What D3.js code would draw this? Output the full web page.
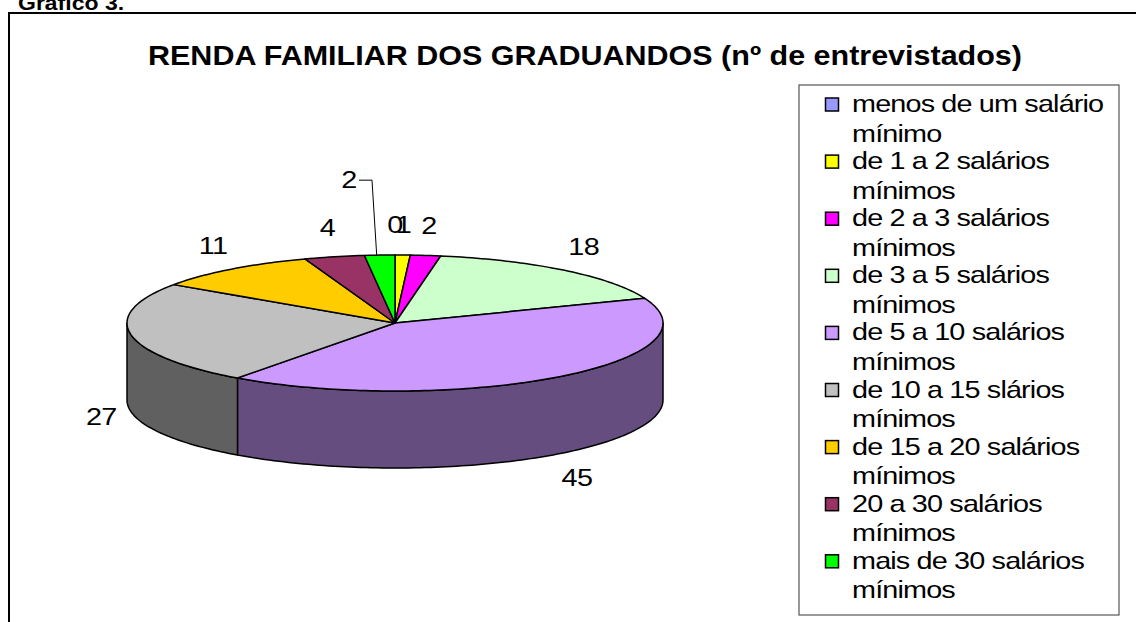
<!DOCTYPE html>
<html><head><meta charset="utf-8">
<script src="https://cdn.jsdelivr.net/npm/d3@7"></script>
<style>body{margin:0;background:#fff}svg{display:block}text{font-family:"Liberation Sans",Arial,sans-serif}</style>
</head><body>
<svg id="c" width="1136" height="622"></svg>
<script>
const categories = ["menos de um salário mínimo","de 1 a 2 salários mínimos","de 2 a 3 salários mínimos","de 3 a 5 salários mínimos","de 5 a 10 salários mínimos","de 10 a 15 slários mínimos","de 15 a 20 salários mínimos","20 a 30 salários mínimos","mais de 30 salários mínimos"];
const values = [0,1,2,18,45,27,11,4,2];
const colors = ["#9999FF","#FFFF00","#FF00FF","#CCFFCC","#CC99FF","#C0C0C0","#FFCC00","#993366","#00FF00"];
const title = "RENDA FAMILIAR DOS GRADUANDOS (nº de entrevistados)";
const caption = "Gráfico 3.";

const svg = d3.select("#c");
// frame
svg.append("rect").attr("x",9).attr("y",13).attr("width",1200).attr("height",700)
  .attr("fill","none").attr("stroke","#000").attr("stroke-width",2);
svg.append("text").attr("transform","translate(18,10) scale(1.15,1)").attr("font-size",20).attr("font-weight","bold").text(caption);
svg.append("text").attr("x",148).attr("y",65).attr("font-size",28).attr("font-weight","bold")
  .attr("textLength",874).attr("lengthAdjust","spacingAndGlyphs").text(title);

const cx=395, cy=323, rx=268, ry=68, depth=77;
const pie = d3.pie().sort(null).value(d=>d).startAngle(0).endAngle(2*Math.PI);
const arcs = pie(values);
const pt = (a,dy=0)=>[cx+rx*Math.sin(a), cy-ry*Math.cos(a)+dy];
const line = d3.line();
function samples(a0,a1){const n=Math.max(2,Math.ceil((a1-a0)/0.02));return d3.range(n+1).map(i=>a0+(a1-a0)*i/n);}
const shade = c=>{const r=d3.rgb(c);return d3.rgb(r.r*0.5,r.g*0.5,r.b*0.5).toString();};

const gSide = svg.append("g"), gTop = svg.append("g");
arcs.forEach((a,i)=>{
  const s0=Math.max(a.startAngle,Math.PI/2), s1=Math.min(a.endAngle,3*Math.PI/2);
  if(s1>s0){
    const top=samples(s0,s1).map(t=>pt(t));
    const bot=samples(s0,s1).reverse().map(t=>pt(t,depth));
    gSide.append("path").attr("d",line(top.concat(bot))+"Z").attr("fill",shade(colors[i]))
      .attr("stroke","#000").attr("stroke-width",1.5).attr("stroke-linejoin","round");
  }
  if(a.endAngle>a.startAngle){
    const pts=[[cx,cy]].concat(samples(a.startAngle,a.endAngle).map(t=>pt(t)));
    gTop.append("path").attr("d",line(pts)+"Z").attr("fill",colors[i])
      .attr("stroke","#000").attr("stroke-width",1.5).attr("stroke-linejoin","round");
  }
});

// data labels
const labelShift = {8:[-29,-45]};
const gLab = svg.append("g");
arcs.forEach((a,i)=>{
  const m=(a.startAngle+a.endAngle)/2;
  const e=pt(m, Math.cos(m)<0?depth:0);
  let lx=e[0]+30*Math.sin(m), ly=e[1]-30*Math.cos(m);
  if(labelShift[i]){
    lx+=labelShift[i][0]; ly+=labelShift[i][1];
    gLab.append("polyline").attr("points",[[lx+10,ly],[lx+23,ly],[e[0]-3,e[1]]].join(" "))
      .attr("fill","none").attr("stroke","#000").attr("stroke-width",1);
  }
  gLab.append("text").attr("transform",`translate(${lx},${ly}) scale(1.2,1)`)
    .attr("text-anchor","middle").attr("dominant-baseline","central").attr("font-size",24)
    .attr("letter-spacing",-0.5).text(values[i]);
});

// legend
const lg = svg.append("g");
lg.append("rect").attr("x",799).attr("y",85).attr("width",320).attr("height",530)
  .attr("fill","#fff").attr("stroke","#555").attr("stroke-width",1.2);
categories.forEach((c,i)=>{
  const by=112+i*57.1;
  const k=c.lastIndexOf(" ");
  lg.append("rect").attr("x",825.5).attr("y",by-14).attr("width",13).attr("height",13)
    .attr("fill",colors[i]).attr("stroke","#000").attr("stroke-width",1.5);
  [c.slice(0,k),c.slice(k+1)].forEach((t,j)=>{
    lg.append("text").attr("transform",`translate(852,${by+j*29.5}) scale(1.2,1)`)
      .attr("font-size",24).attr("letter-spacing",-0.7).text(t);
  });
});
</script>
</body></html>
